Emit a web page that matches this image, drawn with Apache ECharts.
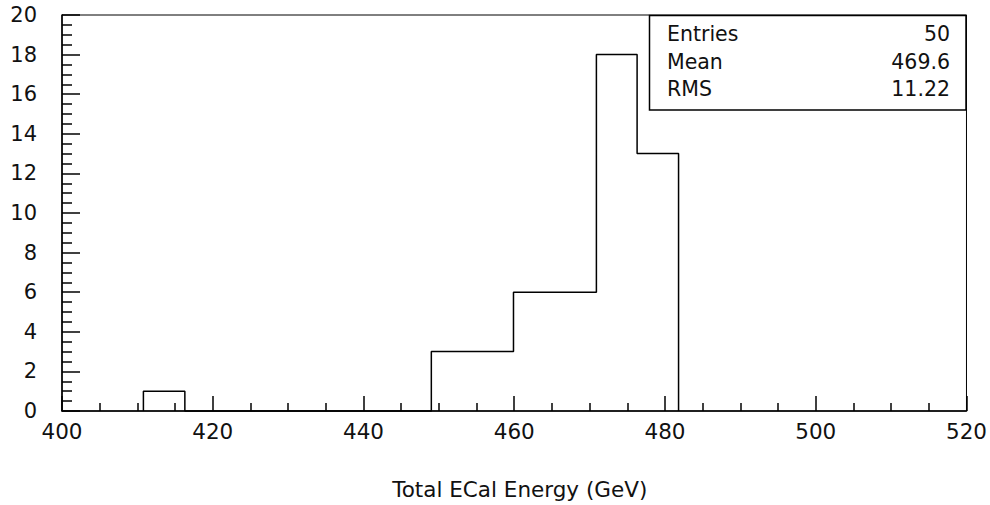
<!DOCTYPE html>
<html>
<head>
<meta charset="utf-8">
<script src="https://cdn.jsdelivr.net/npm/echarts@6/dist/echarts.min.js"></script>
<style>
  html, body { margin: 0; padding: 0; background: #fff; }
  #chart { width: 990px; height: 505px; }
</style>
</head>
<body>
<div id="chart"></div>
<script>
// Histogram bin edges (GeV) and entries per bin
const binEdges = [410.8, 416.3, 421.7, 427.2, 432.6, 438.1, 443.5, 449.0, 454.5, 459.9, 465.4, 470.9, 476.3, 481.8];
const binCounts = [1, 0, 0, 0, 0, 0, 0, 3, 3, 6, 6, 18, 13];

// Statistics box contents
const statLabels = ['Entries', 'Mean', 'RMS'];
const statValues = ['50', '469.6', '11.22'];

const xTitle = 'Total ECal Energy (GeV)';
const FONT = 'DejaVu Sans';

// Step outline of the histogram: up each bin's left edge, across, then down at the end
const outline = [[binEdges[0], 0]];
binCounts.forEach((c, i) => {
  outline.push([binEdges[i], c]);
  outline.push([binEdges[i + 1], c]);
});
outline.push([binEdges[binEdges.length - 1], 0]);

const chart = echarts.init(document.getElementById('chart'), null, { renderer: 'svg' });

const statRowY = [33.5, 61.5, 88.5];
const statGraphics = [{
  type: 'rect',
  shape: { x: 649.5, y: 15.5, width: 316.5, height: 94.5 },
  style: { fill: '#fff', stroke: '#000', lineWidth: 1.5 },
  z: 10
}];
statLabels.forEach((t, i) => {
  statGraphics.push({
    type: 'text', x: 667, y: statRowY[i], z: 11,
    style: { text: t, font: '20.5px "' + FONT + '"', fill: '#111', textAlign: 'left', textVerticalAlign: 'middle' }
  });
  statGraphics.push({
    type: 'text', x: 950, y: statRowY[i], z: 11,
    style: { text: statValues[i], font: '20.5px "' + FONT + '"', fill: '#111', textAlign: 'right', textVerticalAlign: 'middle' }
  });
});

chart.setOption({
  animation: false,
  backgroundColor: '#fff',
  textStyle: { fontFamily: FONT },
  grid: {
    left: 62, right: 23, top: 15, bottom: 94,
    show: true, borderColor: '#000', borderWidth: 1, backgroundColor: 'transparent'
  },
  xAxis: {
    type: 'value', min: 400, max: 520, interval: 20,
    name: xTitle, nameLocation: 'middle', nameGap: 67,
    nameTextStyle: { fontFamily: FONT, fontSize: 21.5, color: '#111', padding: [0, 0, 0, 11] },
    axisLine: { show: true, lineStyle: { color: '#000', width: 1.5 } },
    axisTick: { show: true, inside: true, length: 15, lineStyle: { color: '#000', width: 1.5 } },
    minorTick: { show: true, splitNumber: 4, length: 8, lineStyle: { color: '#000', width: 1.5 } },
    axisLabel: { fontFamily: FONT, fontSize: 21.5, color: '#111', margin: 9 },
    splitLine: { show: false }
  },
  yAxis: {
    type: 'value', min: 0, max: 20, interval: 2,
    axisLine: { show: true, lineStyle: { color: '#000', width: 1.5 } },
    axisTick: { show: true, inside: true, length: 18, lineStyle: { color: '#000', width: 1.5 } },
    minorTick: { show: true, splitNumber: 4, length: 10, lineStyle: { color: '#000', width: 1.5 } },
    axisLabel: { fontFamily: FONT, fontSize: 21, color: '#111', margin: 25 },
    splitLine: { show: false }
  },
  series: [{
    type: 'line',
    data: outline,
    symbol: 'none',
    clip: false,
    lineStyle: { color: '#000', width: 1.5 },
    z: 5
  }],
  graphic: statGraphics
});
</script>
</body>
</html>
